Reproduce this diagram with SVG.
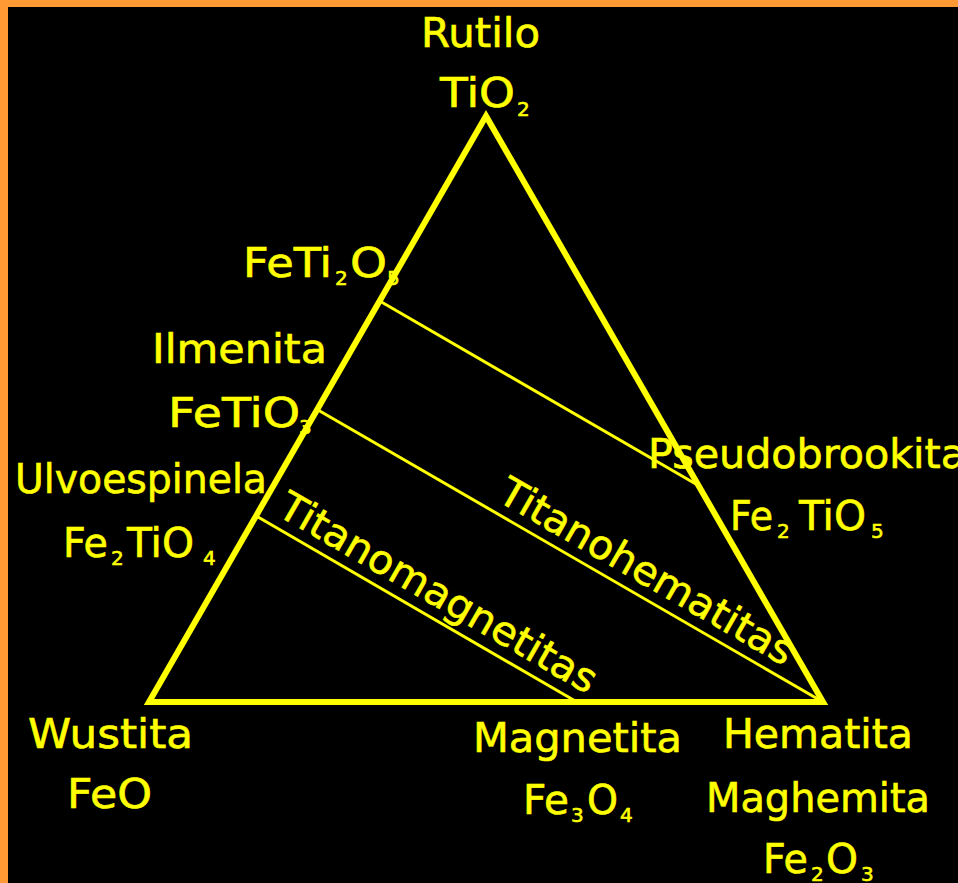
<svg xmlns="http://www.w3.org/2000/svg" width="958" height="883" viewBox="0 0 958 883">
<style>
.t{font-family:"DejaVu Sans","Liberation Sans",sans-serif;font-size:40px;fill:#FFFF00;stroke:#FFFF00;stroke-width:0.6}
.s{font-size:20px}
.edge{stroke:#FFFF00;fill:none;stroke-width:6;stroke-linejoin:miter}
.tie{stroke:#FFFF00;stroke-width:3;fill:none}
</style>
<rect x="0" y="0" width="958" height="883" fill="#000000"/>
<rect x="0" y="0" width="958" height="7" fill="#FF9933"/>
<rect x="0" y="0" width="8" height="883" fill="#FF9933"/>
<g id="connectors">
<polygon class="edge" points="486,116 149,702 823,702"/>
<line class="tie" x1="378" y1="300" x2="701" y2="487"/>
<line class="tie" x1="318" y1="410" x2="823" y2="702"/>
<line class="tie" x1="258" y1="517" x2="577" y2="702"/>
</g>
<g id="rutilo">
<text class="t" x="421" y="47" textLength="119" lengthAdjust="spacingAndGlyphs">Rutilo</text>
<text class="t"><tspan x="440" y="107" textLength="75" lengthAdjust="spacingAndGlyphs">TiO</tspan><tspan class="s" x="517" y="116">2</tspan></text>
</g>
<g id="feti2o5">
<text class="t"><tspan x="243" y="277" textLength="89" lengthAdjust="spacingAndGlyphs">FeTi</tspan><tspan class="s" x="335" y="285">2</tspan><tspan x="350" y="277" textLength="37" lengthAdjust="spacingAndGlyphs">O</tspan><tspan class="s" x="387" y="285">5</tspan></text>
</g>
<g id="ilmenita">
<text class="t" x="152" y="363" textLength="175" lengthAdjust="spacingAndGlyphs">Ilmenita</text>
<text class="t"><tspan x="168" y="427" textLength="132" lengthAdjust="spacingAndGlyphs">FeTiO</tspan><tspan class="s" x="299" y="434">3</tspan></text>
</g>
<g id="ulvoespinela">
<text class="t" x="15" y="493" textLength="252" lengthAdjust="spacingAndGlyphs">Ulvoespinela</text>
<text class="t"><tspan x="63" y="557" textLength="45" lengthAdjust="spacingAndGlyphs">Fe</tspan><tspan class="s" x="111" y="565">2</tspan><tspan x="127" y="557" textLength="67" lengthAdjust="spacingAndGlyphs">TiO</tspan><tspan class="s" x="203" y="565">4</tspan></text>
</g>
<g id="pseudobrookita">
<text class="t" x="648" y="468" textLength="318" lengthAdjust="spacingAndGlyphs">Pseudobrookita</text>
<text class="t"><tspan x="730" y="530" textLength="43" lengthAdjust="spacingAndGlyphs">Fe</tspan><tspan class="s" x="777" y="538">2</tspan><tspan x="799" y="530" textLength="67" lengthAdjust="spacingAndGlyphs">TiO</tspan><tspan class="s" x="871" y="538">5</tspan></text>
</g>
<g id="wustita">
<text class="t" x="28" y="748" textLength="165" lengthAdjust="spacingAndGlyphs">Wustita</text>
<text class="t" x="67" y="808" textLength="85" lengthAdjust="spacingAndGlyphs">FeO</text>
</g>
<g id="magnetita">
<text class="t" x="473" y="752" textLength="209" lengthAdjust="spacingAndGlyphs">Magnetita</text>
<text class="t"><tspan x="523" y="814" textLength="46" lengthAdjust="spacingAndGlyphs">Fe</tspan><tspan class="s" x="571" y="822">3</tspan><tspan x="587" y="814" textLength="31" lengthAdjust="spacingAndGlyphs">O</tspan><tspan class="s" x="620" y="822">4</tspan></text>
</g>
<g id="hematita">
<text class="t" x="723" y="748" textLength="190" lengthAdjust="spacingAndGlyphs">Hematita</text>
<text class="t" x="706" y="812" textLength="224" lengthAdjust="spacingAndGlyphs">Maghemita</text>
<text class="t"><tspan x="763" y="873" textLength="45" lengthAdjust="spacingAndGlyphs">Fe</tspan><tspan class="s" x="811" y="881">2</tspan><tspan x="826" y="873" textLength="32" lengthAdjust="spacingAndGlyphs">O</tspan><tspan class="s" x="861" y="881">3</tspan></text>
</g>
<g id="titanomagnetitas" transform="translate(258,517) rotate(30)">
<text class="t" x="14" y="-11" textLength="360" lengthAdjust="spacingAndGlyphs">Titanomagnetitas</text>
</g>
<g id="titanohematitas" transform="translate(318,410) rotate(30)">
<text class="t" x="199" y="-11" textLength="333" lengthAdjust="spacingAndGlyphs">Titanohematitas</text>
</g>
</svg>
